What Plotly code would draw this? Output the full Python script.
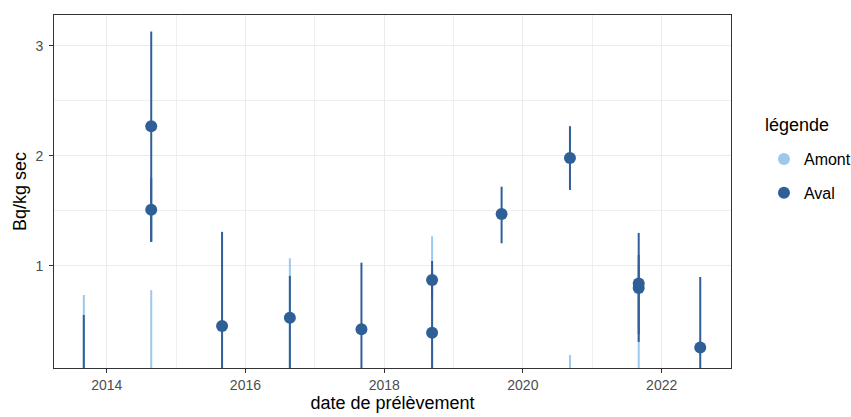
import plotly.graph_objects as go

# ---- data ----
aval_dates = ["2013-09-02", "2014-08-23", "2014-08-23", "2015-08-31", "2016-08-22",
              "2017-09-03", "2018-09-10", "2018-09-10", "2019-09-11", "2020-09-05",
              "2021-09-02", "2021-09-02", "2022-07-23"]
aval_values = [0.0, 1.51, 2.27, 0.455, 0.53, 0.424, 0.394, 0.873, 1.473, 1.98, 0.80, 0.84, 0.26]
aval_upper = [0.555, 1.80, 3.13, 1.31, 0.91, 1.03, 0.95, 1.045, 1.72, 2.27, 1.10, 1.30, 0.90]
aval_lower = [-0.5, 1.22, 1.22, -0.40, -0.05, -0.18, -0.16, 0.70, 1.206, 1.69, 0.31, 0.38, -0.38]

amont_dates = ["2013-09-02", "2014-08-23", "2016-08-22", "2018-09-10", "2020-09-05", "2021-09-02"]
amont_values = [0.0, 0.0, 0.0, 0.0, 0.0, 0.0]
amont_upper = [0.736, 0.78, 1.07, 1.27, 0.19, 1.0]
amont_lower = [-0.7, -0.7, -0.9, -1.0, -0.2, -0.8]

y_ticks = [1, 2, 3]
y_minor = [1.5, 2.5]

AMONT_COLOR = "#9CC8EE"
AVAL_COLOR = "#2E6097"
FONT = "Liberation Sans, Arial, sans-serif"

fig = go.Figure()

fig.add_trace(go.Scatter(
    x=amont_dates, y=amont_values, mode="markers", name="Amont", legendgroup="amont",
    marker=dict(color=AMONT_COLOR, size=12),
    error_y=dict(type="data", symmetric=False,
                 array=[u - v for u, v in zip(amont_upper, amont_values)],
                 arrayminus=[v - l for v, l in zip(amont_values, amont_lower)],
                 color=AMONT_COLOR, thickness=2, width=0),
))
fig.add_trace(go.Scatter(
    x=aval_dates, y=aval_values, mode="markers", name="Aval", legendgroup="aval",
    marker=dict(color=AVAL_COLOR, size=12),
    error_y=dict(type="data", symmetric=False,
                 array=[u - v for u, v in zip(aval_upper, aval_values)],
                 arrayminus=[v - l for v, l in zip(aval_values, aval_lower)],
                 color=AVAL_COLOR, thickness=2, width=0),
))

fig.update_layout(
    width=851, height=417,
    margin=dict(l=54, r=120, t=15, b=49, autoexpand=False),
    paper_bgcolor="white", plot_bgcolor="white",
    font=dict(family=FONT, color="#000000"),
    legend=dict(
        font=dict(size=16, color="#000000"),
        x=1.0487, xanchor="left", y=0.64, yanchor="top",
        bgcolor="rgba(0,0,0,0)", tracegroupgap=10, traceorder="grouped",
    ),
    annotations=[dict(text="légende", xref="paper", yref="paper", x=1.047, y=0.688,
                      xanchor="left", yanchor="middle", showarrow=False,
                      font=dict(size=18, color="#000000"))],
)

fig.update_xaxes(
    type="date", automargin=False,
    range=["2013-03-29", "2023-01-01"],
    tick0="2014-01-01", dtick="M24", tickformat="%Y",
    ticks="outside", ticklen=4, tickcolor="#333333",
    tickfont=dict(size=14, color="#4D4D4D"),
    showgrid=True, gridcolor="#EBEBEB", gridwidth=1.4,
    minor=dict(dtick="M12", tick0="2013-01-01", showgrid=True, gridcolor="#EFEFEF", gridwidth=0.8, ticks=""),
    showline=True, mirror=True, linecolor="#333333", linewidth=1,
    zeroline=False,
    title=dict(text="date de prélèvement", font=dict(size=18, color="#000000"), standoff=4),
)
fig.update_yaxes(
    automargin=False,
    range=[0.073, 3.28],
    tickmode="array", tickvals=y_ticks, ticktext=[str(v) for v in y_ticks],
    ticks="outside", ticklen=4, tickcolor="#333333", ticklabelstandoff=3,
    tickfont=dict(size=14, color="#4D4D4D"),
    showgrid=True, gridcolor="#EBEBEB", gridwidth=1.4,
    minor=dict(tickmode="array", tickvals=y_minor, showgrid=True, gridcolor="#EFEFEF", gridwidth=0.8, ticks=""),
    showline=True, mirror=True, linecolor="#333333", linewidth=1,
    zeroline=False,
    title=dict(text="Bq/kg sec", font=dict(size=18, color="#000000"), standoff=4),
)

fig.write_html("out.html", config={"displayModeBar": False},
               post_script="document.body.style.margin='0';document.body.style.overflow='hidden';")
